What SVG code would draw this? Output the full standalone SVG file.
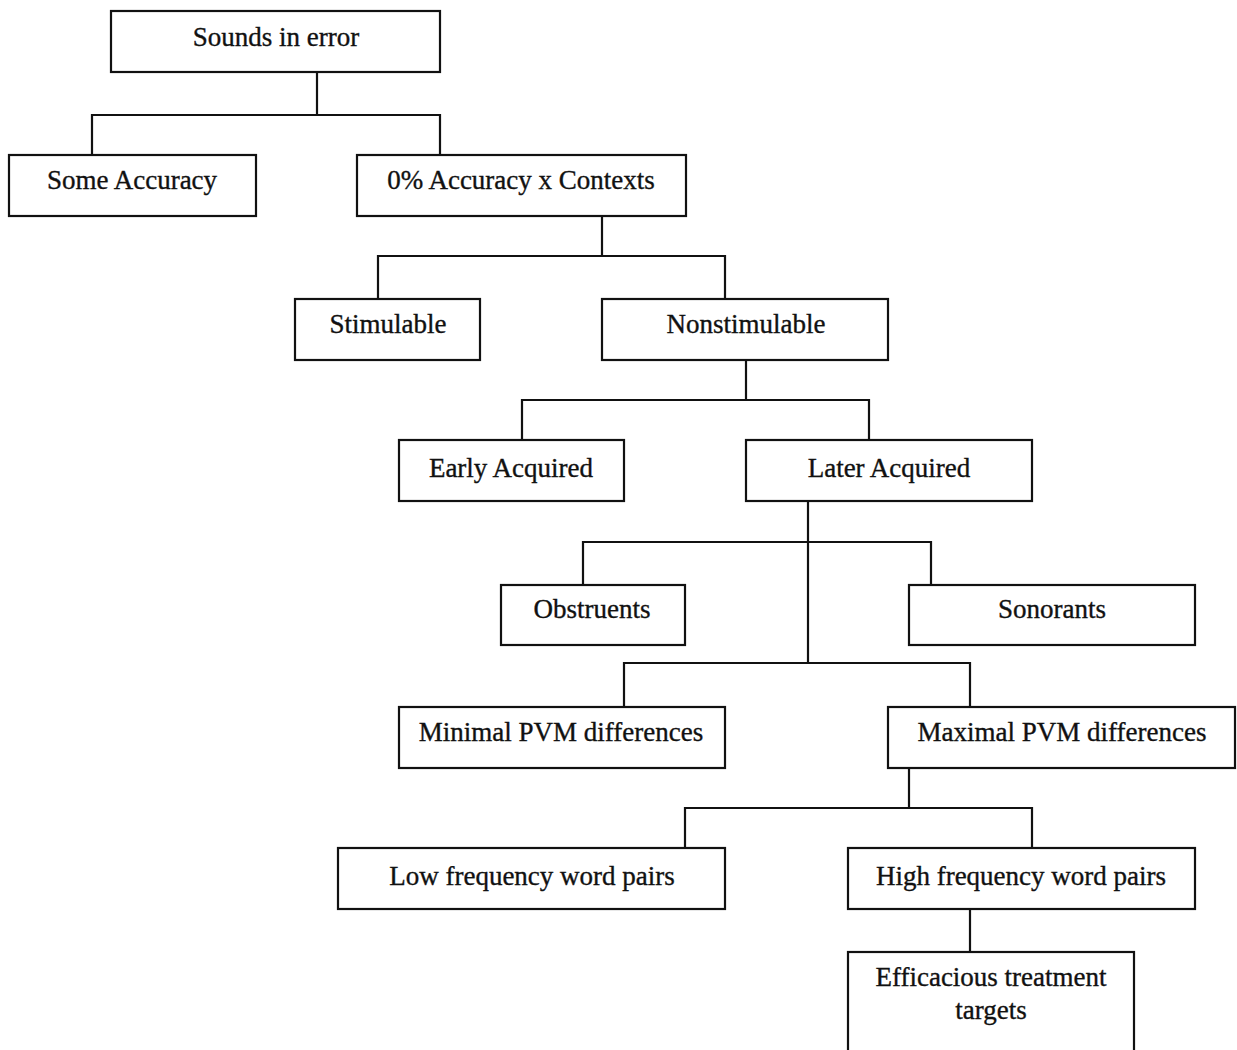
<svg xmlns="http://www.w3.org/2000/svg" width="1237" height="1050" viewBox="0 0 1237 1050">
<style>
.box{fill:#fff;stroke:#111;stroke-width:2.2}
.lbl{font-family:"Liberation Serif","Times New Roman",serif;font-size:27px;fill:#111;text-anchor:middle;stroke:#111;stroke-width:0.35}
.conn{fill:none;stroke:#111;stroke-width:2.2}
</style>
<rect width="1237" height="1050" fill="#fff"/>
<g id="connectors">
<polyline class="conn" points="317,72 317,115"/>
<polyline class="conn" points="92,155 92,115 440,115 440,155"/>
<polyline class="conn" points="602,216 602,256"/>
<polyline class="conn" points="378,299 378,256 725,256 725,299"/>
<polyline class="conn" points="746,360 746,400"/>
<polyline class="conn" points="522,440 522,400 869,400 869,440"/>
<polyline class="conn" points="808,501 808,663"/>
<polyline class="conn" points="583,585 583,542 931,542 931,585"/>
<polyline class="conn" points="624,707 624,663 970,663 970,707"/>
<polyline class="conn" points="909,768 909,808"/>
<polyline class="conn" points="685,848 685,808 1032,808 1032,848"/>
<polyline class="conn" points="970,909 970,952"/>
</g>
<g id="n-sounds"><rect class="box" x="111" y="11" width="329" height="61"/><text class="lbl" x="276" y="46">Sounds in error</text></g>
<g id="n-some"><rect class="box" x="9" y="155" width="247" height="61"/><text class="lbl" x="132" y="189">Some Accuracy</text></g>
<g id="n-zero"><rect class="box" x="357" y="155" width="329" height="61"/><text class="lbl" x="521" y="189">0% Accuracy x Contexts</text></g>
<g id="n-stim"><rect class="box" x="295" y="299" width="185" height="61"/><text class="lbl" x="388" y="333">Stimulable</text></g>
<g id="n-nonstim"><rect class="box" x="602" y="299" width="286" height="61"/><text class="lbl" x="746" y="333">Nonstimulable</text></g>
<g id="n-early"><rect class="box" x="399" y="440" width="225" height="61"/><text class="lbl" x="511" y="477">Early Acquired</text></g>
<g id="n-later"><rect class="box" x="746" y="440" width="286" height="61"/><text class="lbl" x="889" y="477">Later Acquired</text></g>
<g id="n-obs"><rect class="box" x="501" y="585" width="184" height="60"/><text class="lbl" x="592" y="618">Obstruents</text></g>
<g id="n-son"><rect class="box" x="909" y="585" width="286" height="60"/><text class="lbl" x="1052" y="618">Sonorants</text></g>
<g id="n-min"><rect class="box" x="399" y="707" width="326" height="61"/><text class="lbl" x="561" y="741">Minimal PVM differences</text></g>
<g id="n-max"><rect class="box" x="888" y="707" width="347" height="61"/><text class="lbl" x="1062" y="741">Maximal PVM differences</text></g>
<g id="n-low"><rect class="box" x="338" y="848" width="387" height="61"/><text class="lbl" x="532" y="885">Low frequency word pairs</text></g>
<g id="n-high"><rect class="box" x="848" y="848" width="347" height="61"/><text class="lbl" x="1021" y="885">High frequency word pairs</text></g>
<g id="n-eff"><rect class="box" x="848" y="952" width="286" height="110"/><text class="lbl" x="991" y="986">Efficacious treatment</text><text class="lbl" x="991" y="1019">targets</text></g>
</svg>
